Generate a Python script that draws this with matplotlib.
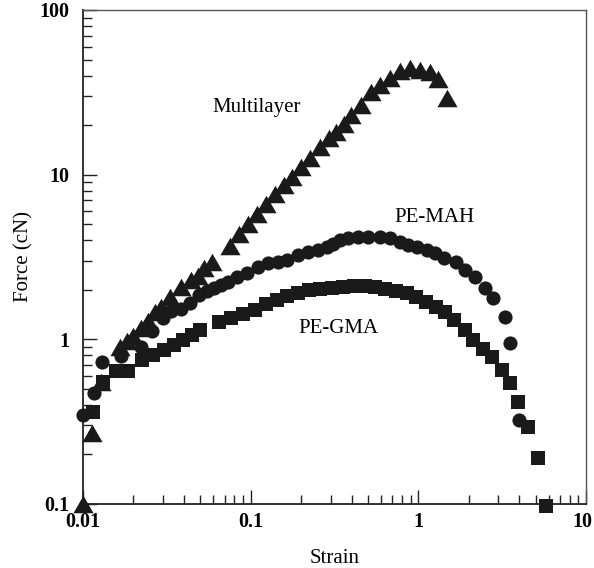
import matplotlib
matplotlib.use("Agg")
import matplotlib.pyplot as plt
import matplotlib.transforms as mtransforms
from matplotlib.ticker import LogLocator, NullFormatter, FixedLocator, FixedFormatter

plt.rcParams["font.family"] = ["Liberation Serif", "DejaVu Serif"]

# Multilayer film (triangles)
multi_strain = [0.0100, 0.0113, 0.0128, 0.0166, 0.0183, 0.0199, 0.0222, 0.0244,
                0.0269, 0.0292, 0.0330, 0.0384, 0.0441, 0.0485, 0.0527, 0.0588,
                0.0753, 0.0851, 0.0964, 0.109, 0.123, 0.140, 0.158, 0.176,
                0.200, 0.226, 0.259, 0.293, 0.323, 0.360, 0.396, 0.455,
                0.522, 0.590, 0.677, 0.777, 0.891, 1.02, 1.17, 1.31, 1.48]
multi_force = [0.100, 0.27, 0.55, 0.90, 0.98, 1.05, 1.17, 1.29,
               1.47, 1.57, 1.81, 2.08, 2.29, 2.42, 2.71, 2.94,
               3.69, 4.36, 5.01, 5.76, 6.63, 7.63, 8.65, 9.68,
               11.1, 12.6, 14.7, 16.7, 18.1, 20.3, 23.0, 26.5,
               31.8, 35.0, 38.6, 42.6, 44.4, 43.2, 42.0, 38.1, 29.2]

# PE-MAH (circles)
mah_strain = [0.0100, 0.0116, 0.0130, 0.0169, 0.0222, 0.0258, 0.0300, 0.0335,
              0.0384, 0.0435, 0.0492, 0.0548, 0.0604, 0.0665, 0.0732, 0.0828,
              0.0951, 0.1105, 0.127, 0.146, 0.165, 0.191, 0.220, 0.252,
              0.285, 0.310, 0.341, 0.380, 0.437, 0.500, 0.590, 0.677,
              0.777, 0.867, 0.981, 1.125, 1.256, 1.42, 1.675, 1.897,
              2.18, 2.49, 2.79, 3.28, 3.52, 3.98]
mah_force = [0.347, 0.472, 0.728, 0.793, 0.897, 1.12, 1.35, 1.49,
             1.53, 1.66, 1.86, 1.96, 2.05, 2.14, 2.23, 2.39,
             2.53, 2.75, 2.90, 2.95, 3.03, 3.25, 3.39, 3.49,
             3.63, 3.79, 4.01, 4.12, 4.18, 4.18, 4.18, 4.12,
             3.90, 3.74, 3.63, 3.49, 3.34, 3.12, 2.95, 2.64,
             2.39, 2.05, 1.78, 1.37, 0.95, 0.324]

# PE-GMA (squares)
gma_strain = [0.0115, 0.0132, 0.0157, 0.0185, 0.0225, 0.0261, 0.0304, 0.0349,
              0.0395, 0.0447, 0.0499, 0.0647, 0.0763, 0.0899, 0.106, 0.123,
              0.144, 0.165, 0.191, 0.223, 0.259, 0.306, 0.355, 0.413,
              0.481, 0.551, 0.633, 0.735, 0.855, 0.968, 1.11, 1.27,
              1.44, 1.63, 1.90, 2.12, 2.43, 2.75, 3.15, 3.52,
              3.93, 4.50, 5.17, 5.77]
gma_force = [0.362, 0.551, 0.642, 0.642, 0.748, 0.803, 0.861, 0.923,
             0.99, 1.06, 1.14, 1.27, 1.35, 1.42, 1.51, 1.64,
             1.73, 1.83, 1.91, 1.99, 2.02, 2.05, 2.08, 2.11,
             2.11, 2.08, 2.02, 1.96, 1.91, 1.81, 1.68, 1.57,
             1.47, 1.31, 1.14, 0.99, 0.873, 0.781, 0.651, 0.543,
             0.416, 0.293, 0.190, 0.097]

x_ticks = [0.01, 0.1, 1, 10]
x_tick_labels = ["0.01", "0.1", "1", "10"]
y_ticks = [0.1, 1, 10, 100]
y_tick_labels = ["0.1", "1", "10", "100"]

fig = plt.figure(figsize=(5.94, 5.68), dpi=100)
ax = fig.add_axes([0.1397, 0.1127, 0.8468, 0.8697])
ax.set_xscale("log")
ax.set_yscale("log")
ax.set_xlim(0.01, 10)
ax.set_ylim(0.1, 100)

tri = [(-1.0, -0.87), (1.0, -0.87), (0.0, 0.87)]
ax.plot(multi_strain, multi_force, linestyle="none", marker=tri, markersize=14.5,
        color="#1a1a1a", markeredgewidth=0, clip_on=False, zorder=3)
ax.plot(mah_strain, mah_force, linestyle="none", marker="o", markersize=10.2,
        color="#1a1a1a", markeredgewidth=0, clip_on=False, zorder=3)
ax.plot(gma_strain, gma_force, linestyle="none", marker="s", markersize=10.4,
        color="#1a1a1a", markeredgewidth=0, clip_on=False, zorder=3)

ax.text(0.109, 25.4, "Multilayer", fontsize=15, ha="center", va="center")
ax.text(1.24, 5.5, "PE-MAH", fontsize=15, ha="center", va="center")
ax.text(0.332, 1.16, "PE-GMA", fontsize=15, ha="center", va="center")

ax.xaxis.set_major_locator(FixedLocator(x_ticks))
ax.xaxis.set_major_formatter(FixedFormatter(x_tick_labels))
ax.yaxis.set_major_locator(FixedLocator(y_ticks))
ax.yaxis.set_major_formatter(FixedFormatter(y_tick_labels))
ax.xaxis.set_minor_locator(LogLocator(base=10, subs=range(2, 10)))
ax.yaxis.set_minor_locator(LogLocator(base=10, subs=range(2, 10)))
ax.xaxis.set_minor_formatter(NullFormatter())
ax.yaxis.set_minor_formatter(NullFormatter())

ax.tick_params(which="both", direction="in", top=False, right=False,
               color="#222222", width=1.0)
ax.tick_params(which="major", length=10)
ax.tick_params(which="minor", length=6.5)
ax.tick_params(axis="x", which="major", pad=6)
ax.tick_params(axis="y", which="major", pad=10)
for lbl in ax.get_xticklabels() + ax.get_yticklabels():
    lbl.set_fontweight("bold")
    lbl.set_fontsize(14.5)

# keep the last strain label inside the canvas
last = ax.get_xticklabels()[-1]
last.set_transform(last.get_transform() +
                   mtransforms.ScaledTranslation(-4 / 100, 0, fig.dpi_scale_trans))

for side in ("left", "bottom"):
    ax.spines[side].set_linewidth(1.3)
    ax.spines[side].set_color("#222222")
for side in ("top", "right"):
    ax.spines[side].set_linewidth(1.0)
    ax.spines[side].set_color("#555555")

ax.set_xlabel("Strain", fontsize=15, labelpad=12)
ax.set_ylabel("Force (cN)", fontsize=15, labelpad=4)

fig.savefig("out.png", dpi=100)
